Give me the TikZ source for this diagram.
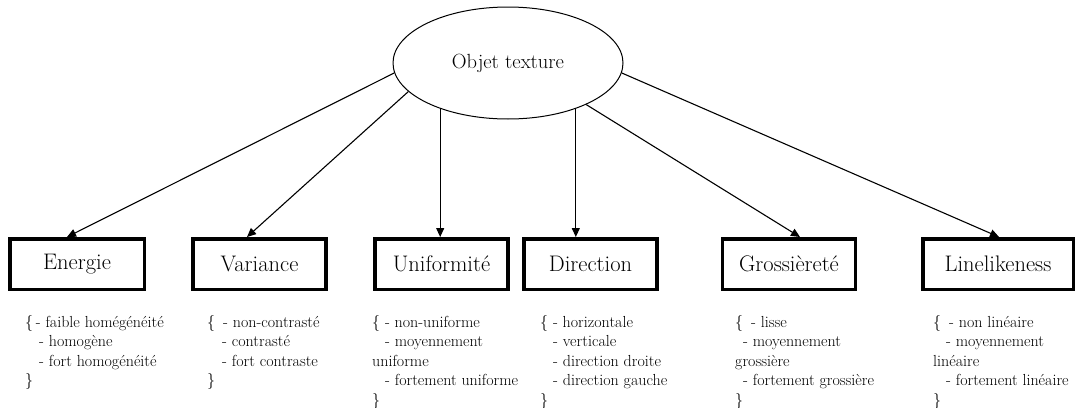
\documentclass[tikz,border=0pt]{standalone}
\usetikzlibrary{arrows.meta,shapes.geometric}
\begin{document}
\begin{tikzpicture}[x=1pt,y=-1pt,
  box/.style={draw, line width=3.5pt, minimum width=133pt, minimum height=50.5pt, inner sep=0pt, font=\fontsize{22.5}{26}\selectfont},
  conn/.style={line width=1.1pt, -{Triangle[length=9pt,width=8pt]}},
  desc/.style={anchor=north west, inner sep=0pt, align=left, font=\fontsize{16}{19.5}\selectfont}]
\useasboundingbox (0,0) rectangle (1079,407);
\node[draw, ellipse, line width=1pt, minimum width=230pt, minimum height=112pt, inner sep=0pt, font=\fontsize{20.5}{24}\selectfont] (obj) at (508,63) {Objet texture};
\node[box, minimum width=134.5pt] (ene) at (77,264) {Energie};
\node[box] (var) at (259.5,264) {Variance};
\node[box] (uni) at (441.5,264) {Uniformité};
\node[box] (dir) at (590.5,264) {Direction};
\node[box] (gro) at (789,264) {Grossièreté};
\node[box, minimum width=150.5pt] (lin) at (998,264) {Linelikeness};
\draw[conn] (obj.185) -- ([xshift=-10pt]ene.north);
\draw[conn] (obj.196) -- ([xshift=-12.5pt]var.north);
\draw[conn] (obj.214) -- (obj.214 |- uni.north);
\draw[conn] (obj.326) -- (obj.326 |- dir.north);
\draw[conn] (obj.332) -- ([xshift=11pt]gro.north);
\draw[conn] (obj.355) -- ([xshift=1pt]lin.north);
\node[desc] (tene) at (25,315) {\{\,- faible homégénéité\\\hspace*{14pt}- homogène\\\hspace*{14pt}- fort homogénéité\\\}};
\node[desc] (tvar) at (207,315) {\{\hspace{8pt}- non-contrasté\\\hspace*{15pt}- contrasté\\\hspace*{15pt}- fort contraste\\\}};
\node[desc] (tuni) at (372,315) {\{ - non-uniforme\\\hspace*{13pt}- moyennement\\uniforme\\\hspace*{13pt}- fortement uniforme\\\}};
\node[desc] (tdir) at (540,315) {\{ - horizontale\\\hspace*{13pt}- verticale\\\hspace*{13pt}- direction droite\\\hspace*{13pt}- direction gauche\\\}};
\node[desc] (tgro) at (735,315) {\{\hspace{8pt}- lisse\\\hspace*{8pt}- moyennement\\grossière\\\hspace*{8pt}- fortement grossière\\\}};
\node[desc] (tlin) at (933,315) {\{\hspace{8pt}- non linéaire\\\hspace*{13pt}- moyennement\\linéaire\\\hspace*{13pt}- fortement linéaire\\\}};
\end{tikzpicture}
\end{document}
